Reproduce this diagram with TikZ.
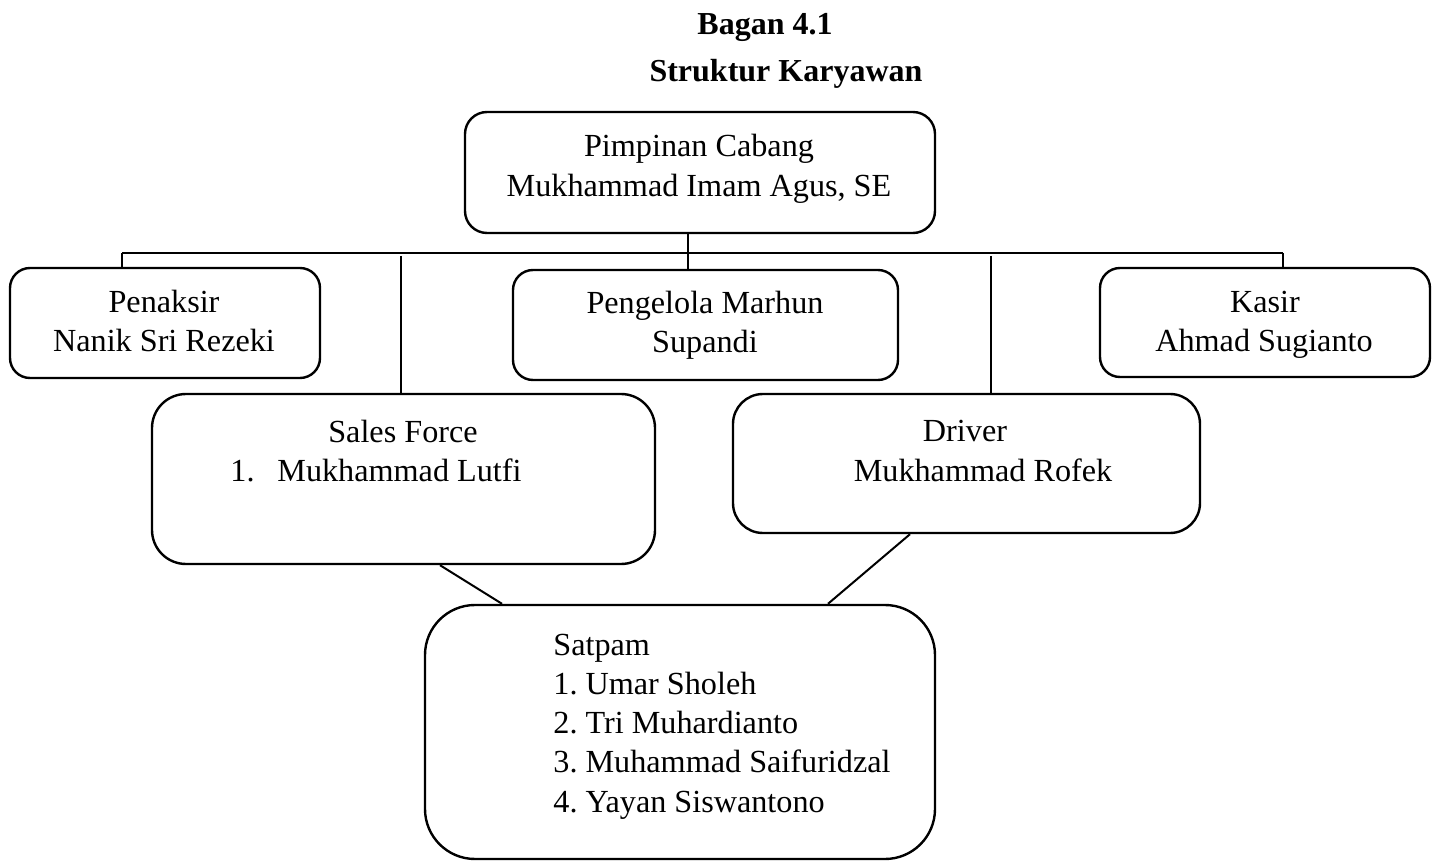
\documentclass[tikz,border=0pt]{standalone}
\usepackage{fontspec}
\setmainfont{Liberation Serif}
\usetikzlibrary{calc}
\frenchspacing
\tikzset{
  box/.style={draw, line width=1.2pt, inner sep=0pt},
  txt/.style={inner sep=0pt, anchor=base, font=\fontsize{16.1}{19.75}\selectfont},
  ttl/.style={inner sep=0pt, anchor=base, font=\fontsize{16}{19.75}\selectfont\bfseries},
  thinline/.style={line width=0.6pt},
  diag/.style={line width=1pt}
}
\begin{document}
\begin{tikzpicture}[x=0.5pt,y=-0.5pt]
\useasboundingbox (0,0) rectangle (1437,861);

% titles
\node[ttl] (t1) at (765,35) {Bagan 4.1};
\node[ttl] (t2) at (786,82) {Struktur Karyawan};

% boxes
\node[box, rounded corners=11pt, minimum width=235pt, minimum height=60.5pt] (pim) at (700,172.5) {};
\node[box, rounded corners=10pt, minimum width=155pt, minimum height=55pt] (pnk) at (165,323) {};
\node[box, rounded corners=10pt, minimum width=192.5pt, minimum height=55pt] (pen) at (705.5,325) {};
\node[box, rounded corners=10pt, minimum width=165pt, minimum height=54.5pt] (kas) at (1265,322.5) {};
\node[box, rounded corners=17pt, minimum width=251.5pt, minimum height=85pt] (sal) at (403.5,479) {};
\node[box, rounded corners=15pt, minimum width=233.5pt, minimum height=69.5pt] (drv) at (966.5,463.5) {};
\node[box, rounded corners=25pt, minimum width=255pt, minimum height=127pt] (sat) at (680,732) {};

% texts
\node[txt] (pim1) at (699,157) {Pimpinan Cabang};
\node[txt] (pim2) at (699,197) {Mukhammad Imam Agus, SE};
\node[txt] (pnk1) at (164,313) {Penaksir};
\node[txt] (pnk2) at (164,352) {Nanik Sri Rezeki};
\node[txt] (pen1) at (705,314) {Pengelola Marhun};
\node[txt] (pen2) at (705,353) {Supandi};
\node[txt] (kas1) at (1265,313) {Kasir};
\node[txt] (kas2) at (1264,352) {Ahmad Sugianto};
\node[txt] (sal1) at (403,443) {Sales Force};
\node[txt, anchor=base west] (sal2a) at (230,481) {1.};
\node[txt, anchor=base west] (sal2b) at (277,481) {Mukhammad Lutfi};
\node[txt] (drv1) at (965,442) {Driver};
\node[txt] (drv2) at (983,482) {Mukhammad Rofek};
\node[txt, anchor=base west] (sat1) at (553,655) {Satpam};
\node[txt, anchor=base west] (sat2) at (553,694) {1. Umar Sholeh};
\node[txt, anchor=base west] (sat3) at (553,733) {2. Tri Muhardianto};
\node[txt, anchor=base west] (sat4) at (553,772) {3. Muhammad Saifuridzal};
\node[txt, anchor=base west] (sat5) at (553,812) {4. Yayan Siswantono};

% connectors
\coordinate (hL) at (122,253);
\coordinate (hR) at (1283,253);
\coordinate (hM) at (688,253);
\coordinate (hS) at (401,256);
\coordinate (hD) at (991,256);
\draw[thinline] (hL) -- (hR);
\draw[thinline] (hM |- pim.south) -- (hM |- pen.north);
\draw[thinline] (hL) -- (hL |- pnk.north);
\draw[thinline] (hR) -- (hR |- kas.north);
\draw[thinline] (hS) -- (hS |- sal.north);
\draw[thinline] (hD) -- (hD |- drv.north);
\draw[diag] ($(sal.south)+(36.5,0)$) -- ($(sat.north)+(-178,0)$);
\draw[diag] ($(drv.south)+(-56.5,0)$) -- ($(sat.north)+(148,0)$);
\end{tikzpicture}
\end{document}
